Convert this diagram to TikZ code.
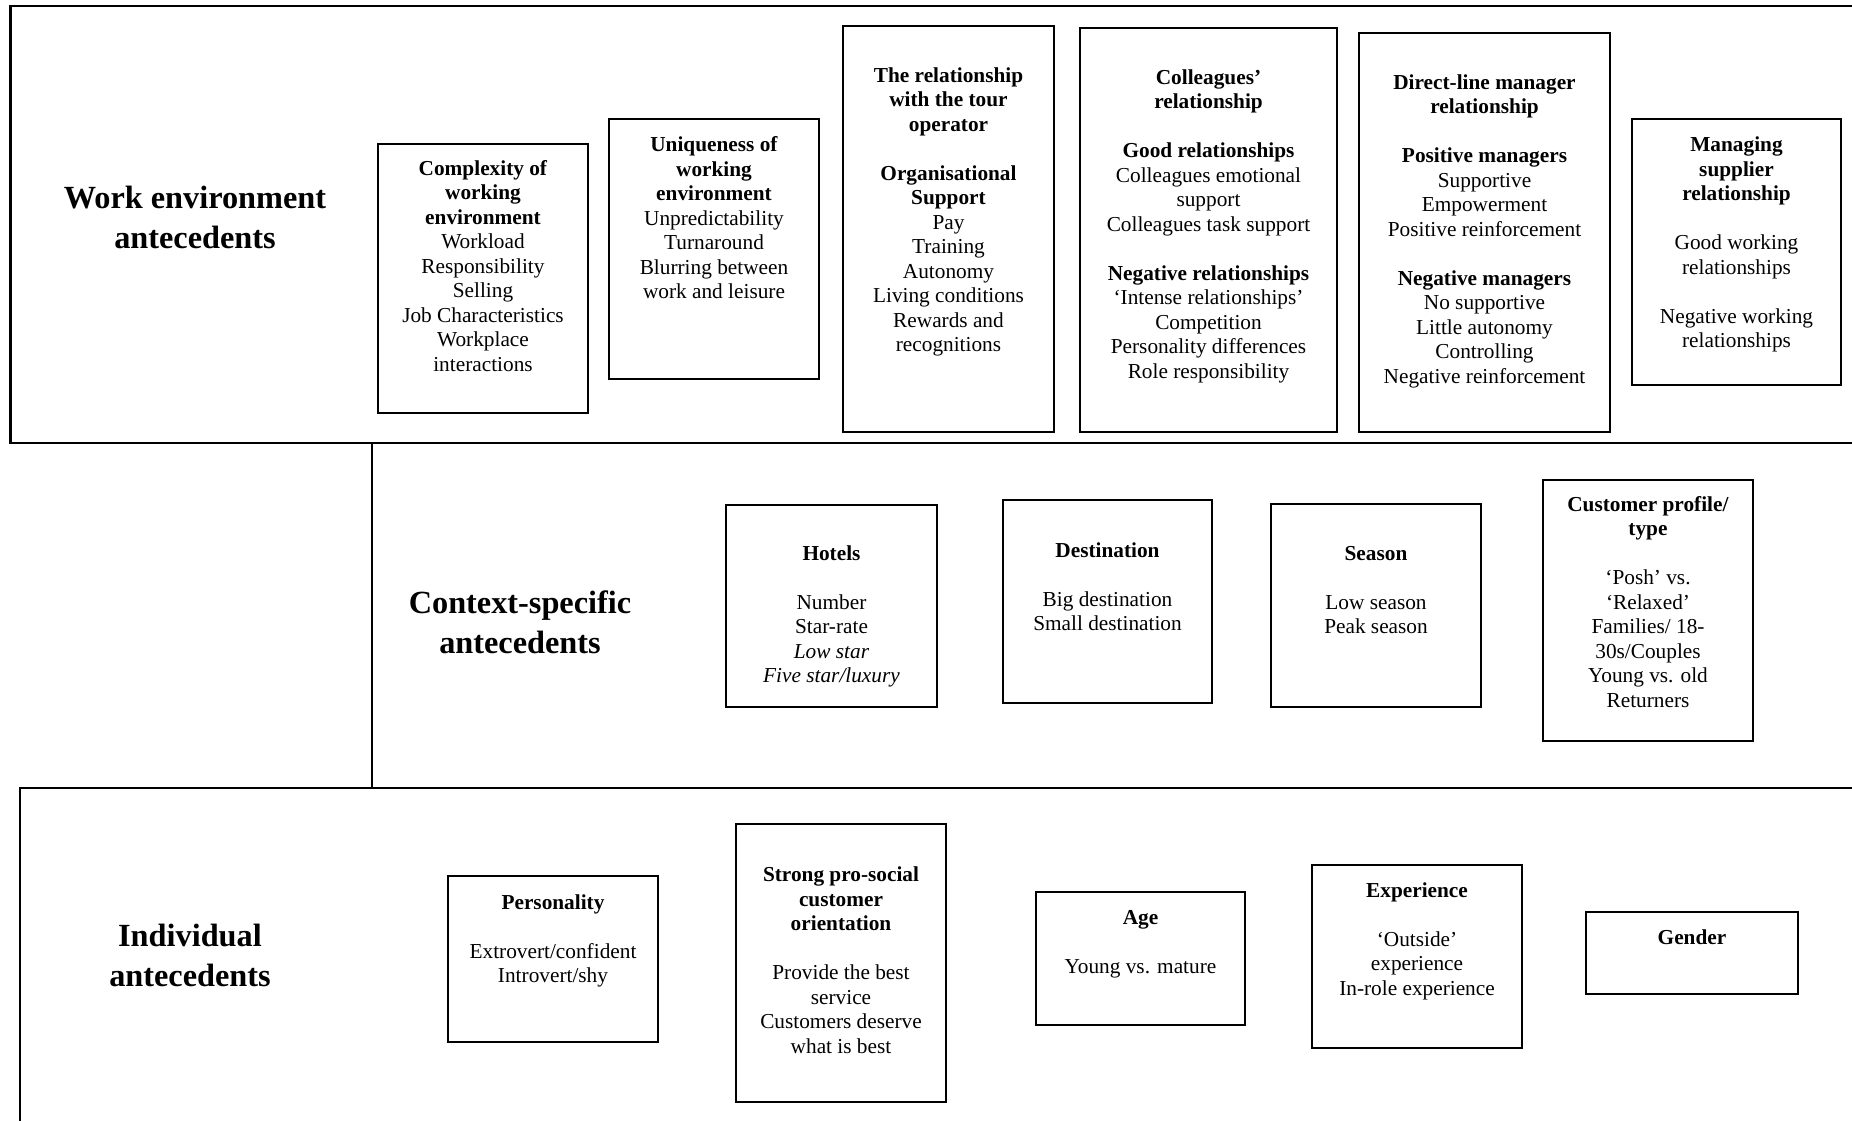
\documentclass[tikz,border=0pt]{standalone}
\usepackage{fontspec}
\setmainfont{Liberation Serif}
\newcommand\bodyfnt{\fontsize{21.3pt}{24.5pt}\selectfont}
\newcommand\bigfnt{\fontsize{32.3pt}{40pt}\selectfont\bfseries}
\newcommand\fst{\rule{0pt}{17pt}}
\newcommand\bst{\rule{0pt}{27pt}}
\begin{document}
\begin{tikzpicture}[x=1pt,y=-1pt,
  frame/.style={line width=2.4pt},
  box/.style={draw, line width=1.6pt, rectangle, inner sep=0pt},
  txt/.style={align=center, inner sep=0pt, anchor=north, font=\bodyfnt},
  big/.style={align=center, inner sep=0pt, anchor=north, font=\bigfnt}]
\useasboundingbox (0,0) rectangle (1852,1120);
\clip (0,0) rectangle (1852,1120);
% frames
\draw[frame] (10.6,5.9) rectangle (1900,443);
\draw[frame] (372,443) rectangle (1900,788);
\draw[frame] (20,788) rectangle (1900,1140);
% main labels
\node[big] (wea) at (195,181) {\bst Work environment\\antecedents};
\node[big] (csa) at (520,586) {\bst Context-specific\\antecedents};
\node[big] (ia) at (190,919) {\bst Individual\\antecedents};
% boxes
\node[box, minimum width=210pt, minimum height=269pt] (b1) at (483,278.5) {};
\node[box, minimum width=210pt, minimum height=260pt] (b2) at (714,249) {};
\node[box, minimum width=211pt, minimum height=406pt] (b3) at (948.5,229) {};
\node[box, minimum width=257pt, minimum height=404pt] (b4) at (1208.5,230) {};
\node[box, minimum width=251pt, minimum height=399pt] (b5) at (1484.5,232.5) {};
\node[box, minimum width=209pt, minimum height=266pt] (b6) at (1736.5,252) {};
\node[box, minimum width=211pt, minimum height=202pt] (b7) at (831.5,606) {};
\node[box, minimum width=209pt, minimum height=203pt] (b8) at (1107.5,601.5) {};
\node[box, minimum width=210pt, minimum height=203pt] (b9) at (1376,605.5) {};
\node[box, minimum width=210pt, minimum height=261pt] (b10) at (1648,610.5) {};
\node[box, minimum width=210pt, minimum height=166pt] (b11) at (553,959) {};
\node[box, minimum width=210pt, minimum height=278pt] (b12) at (841,963) {};
\node[box, minimum width=209pt, minimum height=133pt] (b13) at (1140.5,958.5) {};
\node[box, minimum width=210pt, minimum height=183pt] (b14) at (1417,956.5) {};
\node[box, minimum width=212pt, minimum height=82pt] (b15) at (1692,953) {};
% texts
\node[txt] (t1) at (483,158) {\fst\textbf{Complexity of}\\\textbf{working}\\\textbf{environment}\\Workload\\Responsibility\\Selling\\Job Characteristics\\Workplace\\interactions};
\node[txt] (t2) at (714,134.6) {\fst\textbf{Uniqueness of}\\\textbf{working}\\\textbf{environment}\\Unpredictability\\Turnaround\\Blurring between\\work and leisure};
\node[txt] (t3) at (948.5,65) {\fst\textbf{The relationship}\\\textbf{with the tour}\\\textbf{operator}\\[24.5pt]\textbf{Organisational}\\\textbf{Support}\\Pay\\Training\\Autonomy\\Living conditions\\Rewards and\\recognitions};
\node[txt] (t4) at (1208.5,67) {\fst\textbf{Colleagues’}\\\textbf{relationship}\\[24.5pt]\textbf{Good relationships}\\Colleagues emotional\\support\\Colleagues task support\\[24.5pt]\textbf{Negative relationships}\\‘Intense relationships’\\Competition\\Personality differences\\Role responsibility};
\node[txt] (t5) at (1484.5,72) {\fst\textbf{Direct-line manager}\\\textbf{relationship}\\[24.5pt]\textbf{Positive managers}\\Supportive\\Empowerment\\Positive reinforcement\\[24.5pt]\textbf{Negative managers}\\No supportive\\Little autonomy\\Controlling\\Negative reinforcement};
\node[txt] (t6) at (1736.5,134.6) {\fst\textbf{Managing}\\\textbf{supplier}\\\textbf{relationship}\\[24.5pt]Good working\\relationships\\[24.5pt]Negative working\\relationships};
\node[txt] (t7) at (831.5,543) {\fst\textbf{Hotels}\\[24.5pt]Number\\Star-rate\\\textit{Low star}\\\textit{Five star/luxury}};
\node[txt] (t8) at (1107.5,540) {\fst\textbf{Destination}\\[24.5pt]Big destination\\Small destination};
\node[txt] (t9) at (1376,543) {\fst\textbf{Season}\\[24.5pt]Low season\\Peak season};
\node[txt] (t10) at (1648,494) {\fst\textbf{Customer profile/}\\\textbf{type}\\[24.5pt]‘Posh’ vs.\\‘Relaxed’\\Families/ 18-\\30s/Couples\\Young vs. old\\Returners};
\node[txt] (t11) at (553,892) {\fst\textbf{Personality}\\[24.5pt]Extrovert/confident\\Introvert/shy};
\node[txt] (t12) at (841,864.5) {\fst\textbf{Strong pro-social}\\\textbf{customer}\\\textbf{orientation}\\[24.5pt]Provide the best\\service\\Customers deserve\\what is best};
\node[txt] (t13) at (1140.5,907) {\fst\textbf{Age}\\[24.5pt]Young vs. mature};
\node[txt] (t14) at (1417,880) {\fst\textbf{Experience}\\[24.5pt]‘Outside’\\experience\\In-role experience};
\node[txt] (t15) at (1692,927) {\fst\textbf{Gender}};
\end{tikzpicture}
\end{document}
